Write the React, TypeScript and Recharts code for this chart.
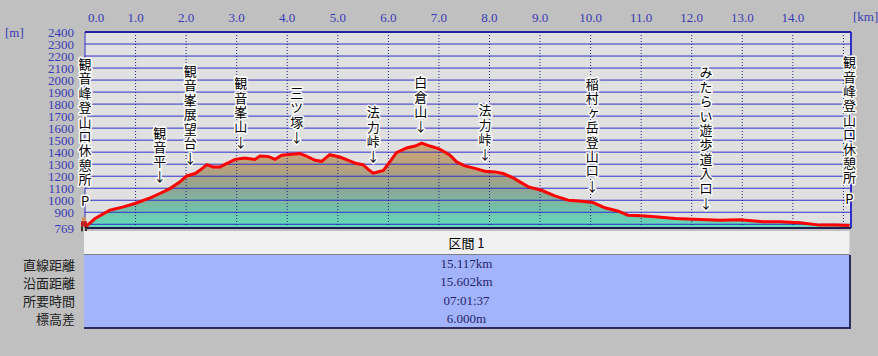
import React from 'react';
import { ComposedChart, Area, Line, XAxis, YAxis, CartesianGrid, ReferenceLine, ReferenceDot } from 'recharts';

// profile: horizontal distance [km] / elevation [m]
const distanceKm = [
  0, 0.2, 0.49, 0.76, 0.99, 1.29, 1.48, 1.68, 1.88, 2.01, 2.18, 2.27, 2.41, 2.53, 2.67, 2.8,
  2.97, 3.16, 3.36, 3.46, 3.62, 3.76, 3.89, 4.09, 4.25, 4.38, 4.55, 4.68, 4.84, 5.04, 5.21,
  5.37, 5.5, 5.6, 5.7, 5.9, 6.03, 6.16, 6.36, 6.53, 6.66, 6.82, 6.99, 7.09, 7.22, 7.35, 7.51,
  7.68, 7.91, 8.11, 8.27, 8.47, 8.6, 8.77, 9.03, 9.29, 9.56, 9.82, 10.05, 10.28, 10.55, 10.74,
  11.01, 11.27, 11.67, 12.16, 12.56, 12.95, 13.41, 13.74, 14.14, 14.53, 14.86, 15.12,
];
const elevationM = [
  775, 848, 917, 945, 973, 1020, 1056, 1097, 1153, 1202, 1222, 1249, 1296, 1277, 1277, 1305,
  1340, 1352, 1340, 1368, 1365, 1340, 1374, 1382, 1388, 1368, 1332, 1324, 1379, 1360, 1332,
  1305, 1296, 1257, 1225, 1249, 1319, 1396, 1435, 1451, 1476, 1451, 1429, 1407, 1374, 1319, 1286,
  1269, 1241, 1236, 1222, 1186, 1153, 1111, 1083, 1036, 1000, 992, 981, 937, 909, 876,
  870, 862, 848, 840, 834, 838, 821, 821, 813, 793, 793, 790,
];

const kmTicks = [0, 1, 2, 3, 4, 5, 6, 7, 8, 9, 10, 11, 12, 13, 14];
const kmGrid = [1, 2, 3, 4, 5, 6, 7, 8, 9, 10, 11, 12, 13, 14, 15];
const elevTicks = [769, 900, 1000, 1100, 1200, 1300, 1400, 1500, 1600, 1700, 1800, 1900, 2000, 2100, 2200, 2300, 2400];
const elevGrid = [800, 900, 1000, 1100, 1200, 1300, 1400, 1500, 1600, 1700, 1800, 1900, 2000, 2100, 2200, 2300];

const placeNames = [
  '観音峰登山口休憩所', '観音平', '観音峯展望台', '観音峯山', '三ツ塚', '法力峠',
  '白倉山', '法力峠', '稲村ヶ岳登山口', 'みたらい遊歩道入口', '観音峰登山口休憩所',
];
const placeKm = [0, 1.48, 2.08, 3.08, 4.19, 5.7, 6.64, 7.91, 10.03, 12.28, 15.12];
const placeElev = [775, 1056, 1210, 1347, 1386, 1225, 1474, 1241, 982, 838, 790];
const placeMark = ['P', '↓', '↓', '↓', '↓', '↓', '↓', '↓', '↓', '↓', 'P'];

const summaryLabels = ['直線距離', '沿面距離', '所要時間', '標高差'];
const summaryValues = ['15.117km', '15.602km', '07:01:37', '6.000m'];

const data = distanceKm.map((km, i) => ({ km, elev: elevationM[i] }));

const AXIS_BLUE = '#3a3ab4';
const JP_FONT = '"Noto Sans CJK JP", sans-serif';
const NUM_FONT = '"Liberation Serif", serif';

const KmTick = ({ x, y, payload }: any) => (
  <text x={x + (payload.value === 0 ? 11 : 0)} y={y} textAnchor="middle" dominantBaseline="central"
    fontFamily={NUM_FONT} fontSize={13} fill={AXIS_BLUE}>
    {payload.value.toFixed(1)}
  </text>
);

const ElevTick = ({ x, y, payload }: any) => (
  <text x={x} y={y} textAnchor="end" dominantBaseline="central"
    fontFamily={NUM_FONT} fontSize={13} fill={AXIS_BLUE}>
    {payload.value}
  </text>
);

// vertical place name written top-to-bottom, arrow or P mark underneath
const PlaceLabel = ({ cx, cy, name, mark }: any) => {
  const step = 14.4;
  const n = Array.from(name as string).length;
  const markY = mark === 'P' ? cy - 27 : cy - 17;
  const lastY = mark === 'P' ? markY - 21 : markY - 15;
  const top = lastY - (n - 1) * step - 6.5;
  return (
    <text x={cx} y={top}
      style={{
        writingMode: 'vertical-rl',
        textOrientation: 'upright',
        letterSpacing: 1.4,
        fontFamily: JP_FONT,
        fontSize: 13,
        fill: '#000',
        stroke: '#fff',
        strokeWidth: 3,
        paintOrder: 'stroke',
        strokeLinejoin: 'round',
      }}>
      {name}
      <tspan dy={markY - lastY - step}>{mark}</tspan>
    </text>
  );
};

const Hiker = ({ cx, cy }: any) => (
  <g>
    <rect x={cx - 3} y={cy - 10} width={4} height={4} fill="#d89060" />
    <rect x={cx - 4} y={cy - 6} width={6} height={5} fill="#c02020" />
    <rect x={cx - 4} y={cy - 1} width={2} height={5} fill="#403020" />
    <rect x={cx} y={cy - 1} width={2} height={5} fill="#403020" />
  </g>
);

export default function App() {
  return (
    <div style={{ position: 'absolute', left: 0, top: 0, width: 878, height: 356, background: '#c0c0c0', overflow: 'hidden' }}>
      <svg width={0} height={0} style={{ position: 'absolute' }}>
        <defs>
          <linearGradient id="elevFill" x1="0" y1="0" x2="0" y2="1">
            <stop offset="0%" stopColor="#cfa877" />
            <stop offset="30%" stopColor="#b6a07d" />
            <stop offset="55%" stopColor="#8ea695" />
            <stop offset="80%" stopColor="#70c4ac" />
            <stop offset="100%" stopColor="#62dcbc" />
          </linearGradient>
        </defs>
      </svg>

      <ComposedChart width={878} height={356} data={data} margin={{ top: 0, right: 27, bottom: 128, left: 0 }}>
        <CartesianGrid horizontal={false} vertical={false} fill="#e0e0e0" />
        <XAxis dataKey="km" type="number" orientation="top" domain={[0, 15.15]} ticks={kmTicks} interval={0}
          height={32} axisLine={false} tickLine={false} tickSize={0} tickMargin={15} tick={<KmTick />} />
        <YAxis type="number" domain={[769, 2400]} ticks={elevTicks} interval={0} width={85}
          axisLine={false} tickLine={false} tickSize={0} tickMargin={11} tick={<ElevTick />} />
        <Area type="linear" dataKey="elev" stroke="none" fill="url(#elevFill)" fillOpacity={1}
          isAnimationActive={false} activeDot={false} />
        {elevGrid.map((v) => (
          <ReferenceLine key={'h' + v} y={v} stroke="#3030c8" strokeWidth={1} />
        ))}
        {kmGrid.map((v) => (
          <ReferenceLine key={'v' + v} x={v} stroke="#202080" strokeWidth={1} strokeDasharray="1 2" />
        ))}
        <ReferenceLine y={2400} stroke="#2020a0" strokeWidth={2} />
        <ReferenceLine x={0} stroke="#3030c8" strokeWidth={1} />
        <ReferenceLine x={15.15} stroke="#3030c8" strokeWidth={2} />
        <ReferenceLine y={769} stroke="#1c1c50" strokeWidth={2} />
        <Line type="linear" dataKey="elev" stroke="#ff0000" strokeWidth={3} dot={false} activeDot={false}
          isAnimationActive={false} />
        <ReferenceDot x={0} y={775} r={0} shape={<Hiker />} />
        {placeNames.map((name, i) => (
          <ReferenceDot key={'p' + i} x={placeKm[i]} y={placeElev[i]} r={0}
            shape={(props: any) => <PlaceLabel {...props} name={name} mark={placeMark[i]} />} />
        ))}
      </ComposedChart>

      <div style={{ position: 'absolute', left: 5, top: 25, fontFamily: NUM_FONT, fontSize: 13, color: AXIS_BLUE }}>[m]</div>
      <div style={{ position: 'absolute', left: 853, top: 9, fontFamily: NUM_FONT, fontSize: 13, color: AXIS_BLUE }}>[km]</div>

      <div style={{
        position: 'absolute', left: 84, top: 231, width: 765, height: 23, background: '#f0f0f0',
        borderBottom: '1px solid #808080', borderRight: '1px solid #d8d8d8',
        display: 'flex', alignItems: 'center', justifyContent: 'center',
        fontFamily: JP_FONT, fontSize: 13, color: '#000',
      }}>
        区間 1
      </div>
      <div style={{
        position: 'absolute', left: 84, top: 255, width: 765, height: 72, background: '#a3b3fc',
        borderBottom: '2px solid #2c2c5c', borderRight: '2px solid #2c2c5c',
      }}>
        {summaryValues.map((v, i) => (
          <div key={v} style={{
            position: 'absolute', left: 0, width: 765, top: i * 18.25, height: 18.25,
            display: 'flex', alignItems: 'center', justifyContent: 'center',
            fontFamily: NUM_FONT, fontSize: 13, color: '#25256a',
          }}>
            {v}
          </div>
        ))}
      </div>
      {summaryLabels.map((l, i) => (
        <div key={l} style={{
          position: 'absolute', right: 878 - 75, top: 255 + i * 18.25, height: 18.25,
          display: 'flex', alignItems: 'center',
          fontFamily: JP_FONT, fontSize: 13, color: '#202020', whiteSpace: 'nowrap',
        }}>
          {l}
        </div>
      ))}
    </div>
  );
}
